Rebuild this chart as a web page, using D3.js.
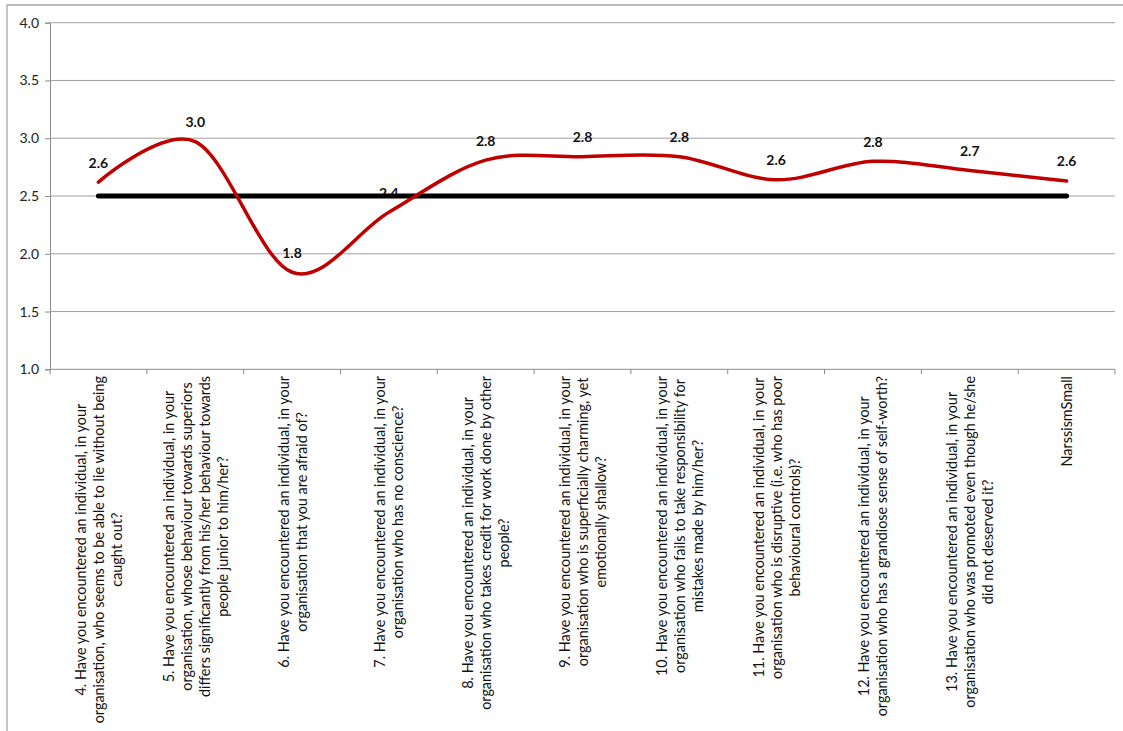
<!DOCTYPE html>
<html><head><meta charset="utf-8">
<script src="https://cdn.jsdelivr.net/npm/d3@7"></script>
<style>
html,body{margin:0;padding:0;background:#fff;}
svg{display:block;}
</style></head>
<body>
<svg id="chart" width="1123" height="731"></svg>
<script>
const categories = [
  ["4. Have you encountered an individual, in your","organisation, who seems to be able to lie without being","caught out?"],
  ["5. Have you encountered an individual, in your","organisation, whose behaviour towards superiors","differs significantly from his/her behaviour towards","people junior to him/her?"],
  ["6. Have you encountered an individual, in your","organisation that you are afraid of?"],
  ["7. Have you encountered an individual, in your","organisation who has no conscience?"],
  ["8. Have you encountered an individual, in your","organisation who takes credit for work done by other","people?"],
  ["9. Have you encountered an individual, in your","organisation who is superficially charming, yet","emotionally shallow?"],
  ["10. Have you encountered an individual, in your","organisation who fails to take responsibility for","mistakes made by him/her?"],
  ["11. Have you encountered an individual, in your","organisation who is disruptive (i.e. who has poor","behavioural controls)?"],
  ["12. Have you encountered an individual, in your","organisation who has a grandiose sense of self-worth?"],
  ["13. Have you encountered an individual, in your","organisation who was promoted even though he/she","did not deserved it?"],
  ["NarssismSmall"]
];
const values = [2.62, 2.97, 1.84, 2.36, 2.81, 2.84, 2.84, 2.64, 2.80, 2.72, 2.63];
const benchmark = [2.5, 2.5, 2.5, 2.5, 2.5, 2.5, 2.5, 2.5, 2.5, 2.5, 2.5];
const yTicks = [1.0, 1.5, 2.0, 2.5, 3.0, 3.5, 4.0];

(function () {
const svg = d3.select("#chart");
const fontFam = "Lato, 'Open Sans', 'DejaVu Sans', sans-serif";
const pL = 50, pR = 1115, pT = 22.7, pB = 369.3;

const x = d3.scaleBand().domain(d3.range(categories.length)).range([pL, pR]).padding(0);
const y = d3.scaleLinear().domain([1, 4]).range([pB, pT]);
const cx = i => x(i) + x.bandwidth() / 2;

// outer frame (partially visible)
svg.append("path").attr("d", `M7,731 V5 H1123`).attr("fill", "none")
  .attr("stroke", "#a6a6a6").attr("stroke-width", 1.3);

// gridlines
svg.append("g").selectAll("line").data(yTicks.filter(t => t > 1)).join("line")
  .attr("x1", pL).attr("x2", pR).attr("y1", d => y(d)).attr("y2", d => y(d))
  .attr("stroke", "#a0a0a0").attr("stroke-width", 1);

// y axis
const yAxis = svg.append("g").attr("transform", `translate(${pL},0)`)
  .call(d3.axisLeft(y).tickValues(yTicks).tickFormat(d3.format(".1f")).tickSize(5).tickPadding(6));
yAxis.select(".domain").attr("stroke", "#8c8c8c");
yAxis.selectAll(".tick line").attr("stroke", "#8c8c8c");
yAxis.selectAll("text").attr("font-family", fontFam).attr("font-size", 14).attr("fill", "#222");

// x axis line and ticks at category boundaries
svg.append("line").attr("x1", pL).attr("x2", pR).attr("y1", pB).attr("y2", pB)
  .attr("stroke", "#8c8c8c");
svg.append("g").selectAll("line").data(d3.range(categories.length + 1)).join("line")
  .attr("x1", i => pL + i * x.bandwidth()).attr("x2", i => pL + i * x.bandwidth())
  .attr("y1", pB).attr("y2", pB + 5).attr("stroke", "#8c8c8c");

// rotated category labels
const lineH = 18;
categories.forEach((lines, i) => {
  const g = svg.append("g").attr("transform", `translate(${cx(i)},376) rotate(-90)`);
  const texts = lines.map((ln, j) => g.append("text")
    .attr("font-family", fontFam).attr("font-size", 14.4).attr("fill", "#111")
    .attr("text-anchor", "middle").attr("dominant-baseline", "central")
    .attr("y", (j - (lines.length - 1) / 2) * lineH).text(ln));
  const maxLen = d3.max(texts, t => t.node().getComputedTextLength());
  texts.forEach(t => t.attr("x", -maxLen / 2));
});

// data labels (drawn first, benchmark line covers them)
svg.append("g").selectAll("text").data(values).join("text")
  .attr("x", (d, i) => cx(i)).attr("y", d => y(d) - 20)
  .attr("text-anchor", "middle").attr("dominant-baseline", "central")
  .attr("font-family", fontFam).attr("font-weight", "bold").attr("font-size", 14)
  .attr("fill", "#111").text(d => d3.format(".1f")(d));

// benchmark line
svg.append("path").datum(benchmark)
  .attr("d", d3.line().x((d, i) => cx(i)).y(d => y(d)))
  .attr("fill", "none").attr("stroke", "#000").attr("stroke-width", 5).attr("stroke-linecap", "round");

// smoothed series
svg.append("path").datum(values)
  .attr("d", d3.line().x((d, i) => cx(i)).y(d => y(d)).curve(d3.curveCatmullRom.alpha(0)))
  .attr("fill", "none").attr("stroke", "#c00000").attr("stroke-width", 3.5).attr("stroke-linecap", "round");
})();
</script>
</body></html>
